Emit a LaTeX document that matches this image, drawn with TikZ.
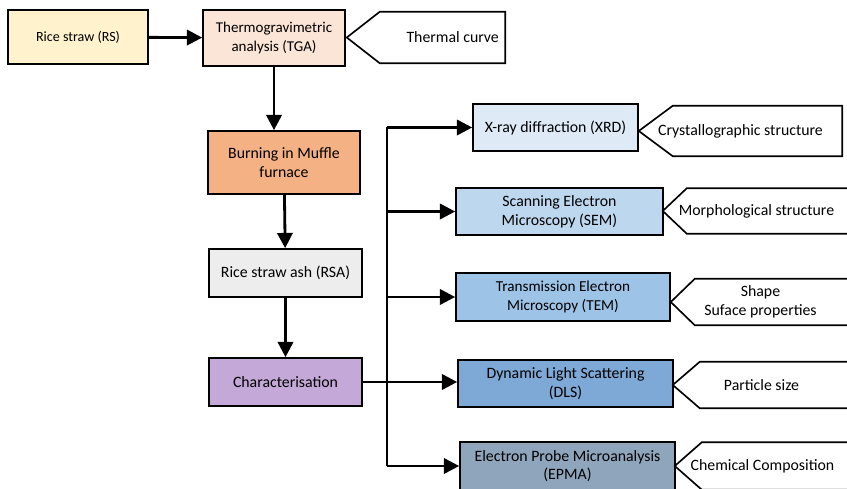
\documentclass[tikz,border=0pt]{standalone}
\usepackage{fontspec}
\setmainfont{Carlito}
\usetikzlibrary{arrows.meta}

\definecolor{rscol}{HTML}{FFF2CC}
\definecolor{tgacol}{HTML}{FBE5D6}
\definecolor{mufcol}{HTML}{F4B183}
\definecolor{rsacol}{HTML}{EDEDED}
\definecolor{chrcol}{HTML}{C4A8D8}
\definecolor{xrdcol}{HTML}{DEEBF7}
\definecolor{semcol}{HTML}{BDD7EE}
\definecolor{temcol}{HTML}{9DC3E6}
\definecolor{dlscol}{HTML}{7EA9D6}
\definecolor{epmcol}{HTML}{8FA5BC}

\tikzset{
  box/.style={draw, line width=1.4pt, fill=#1, align=center, text=black,
    font=\fontsize{13.5}{16}\selectfont},
  callout/.style={align=center, text=black, font=\fontsize{13.5}{16}\selectfont},
  outline/.style={line width=1.4pt},
  flow/.style={line width=2.4pt, -{Triangle[length=13pt,width=13pt]}},
  bus/.style={line width=2.4pt}
}

\begin{document}
\begin{tikzpicture}[x=0.03cm, y=-0.03cm]
    \useasboundingbox (0,0) rectangle (847,489);

    % Preparation chain
    \node[box=rscol, minimum width=4.2cm, minimum height=1.62cm, font=\fontsize{12}{16}\selectfont] at (78,37) (rs) {Rice straw (RS)};
    \node[box=tgacol, minimum width=4.26cm, minimum height=1.68cm, font=\fontsize{12.8}{16}\selectfont] at (274,38) (tga) {Thermogravimetric\\analysis (TGA)};
    \node[box=mufcol, minimum width=4.56cm, minimum height=1.89cm] at (284,162.5) (muffle) {Burning in Muffle\\furnace};
    \node[box=rsacol, minimum width=4.59cm, minimum height=1.44cm] at (285.5,273) (rsa) {Rice straw ash (RSA)};
    \node[box=chrcol, minimum width=4.59cm, minimum height=1.44cm] at (285.5,382) (char) {Characterisation};

    \node[callout, minimum width=4.74cm, minimum height=1.53cm] at (426,37.5) (thermal) {\hspace*{1.6cm}Thermal curve};

    \draw[flow] (rs) -- (tga);
    \draw[flow] (tga.south) -- (tga.south |- muffle.north);
    \draw[flow] (muffle) -- (rsa);
    \draw[flow] (rsa) -- (char);

    % Characterisation techniques
    \node[box=xrdcol, minimum width=4.95cm, minimum height=1.41cm] at (555.5,127.5) (xrd) {X-ray diffraction (XRD)};
    \node[box=semcol, minimum width=6.21cm, minimum height=1.41cm] at (559.5,211.5) (sem) {Scanning Electron\\Microscopy (SEM)};
    \node[box=temcol, minimum width=6.42cm, minimum height=1.44cm, font=\fontsize{13}{16}\selectfont] at (563,297) (tem) {Transmission Electron\\Microscopy (TEM)};
    \node[box=dlscol, minimum width=6.45cm, minimum height=1.41cm] at (565.5,383.5) (dls) {Dynamic Light Scattering\\(DLS)};
    \node[box=epmcol, minimum width=6.45cm, minimum height=1.44cm] at (567.5,466) (epma) {Electron Probe Microanalysis\\(EPMA)};

    % Results
    \node[callout, minimum width=6.09cm, minimum height=1.5cm] at (740.5,131) (crys) {Crystallographic structure};
    \node[callout, minimum width=5.61cm, minimum height=1.35cm] at (756.5,211) (morph) {Morphological structure};
    \node[callout, minimum width=5.37cm, minimum height=1.38cm] at (760.5,302) (shape) {Shape\\Suface properties};
    \node[callout, minimum width=5.31cm, minimum height=1.38cm] at (761.5,385) (size) {Particle size};
    \node[callout, minimum width=5.25cm, minimum height=1.41cm] at (762.5,466) (chem) {Chemical Composition};

    % Pointed outlines of the result nodes
    \foreach \n/\d in {thermal/33, crys/34, morph/24, shape/24, size/27, chem/27}
        \draw[outline] (\n.west) -- ([xshift=\d*0.03cm]\n.north west) -- (\n.north east)
            -- (\n.south east) -- ([xshift=\d*0.03cm]\n.south west) -- cycle;

    % Branch lines
    \coordinate (bus) at (387,127.5);
    \draw[bus] (bus) -- (bus |- epma.west);
    \draw[flow] (char) -- (char.east -| dls.west);
    \draw[flow] (bus) -- (xrd.west);
    \foreach \n in {sem,tem,epma}
        \draw[flow] (bus |- \n.west) -- (\n.west);
\end{tikzpicture}
\end{document}
